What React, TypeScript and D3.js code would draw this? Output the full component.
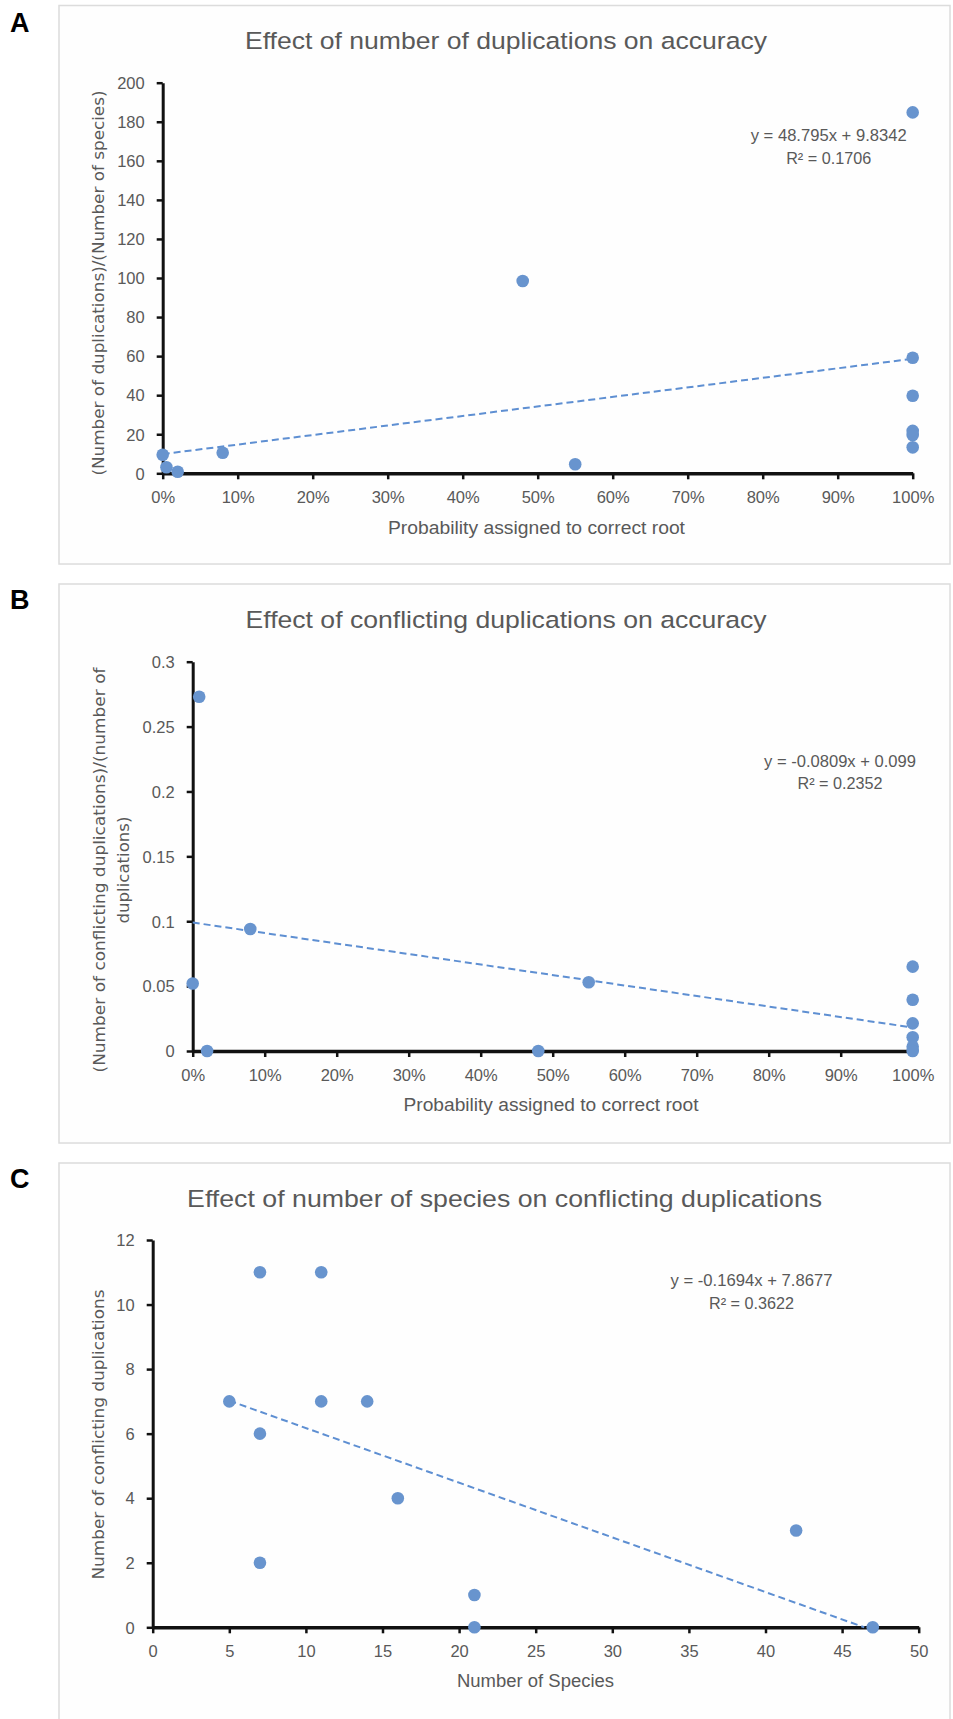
import { useRef, useEffect } from 'react';
import * as d3 from 'd3';

// Panel A: probability of correct root vs duplications per species
const probA = [0, 0.005, 0.02, 0.08, 0.48, 0.55, 1, 1, 1, 1, 1, 1];
const dupsPerSpecies = [9.5, 3.1, 0.8, 10.5, 98.5, 4.6, 184.8, 59.2, 39.7, 21.7, 19.6, 13.3];

// Panel B: probability of correct root vs conflicting/total duplications
const probB = [0.009, 0.08, 0, 0.02, 0.48, 0.55, 1, 1, 1, 1, 1, 1];
const conflictRatio = [0.273, 0.094, 0.052, 0, 0, 0.053, 0.065, 0.0395, 0.0213, 0.0106, 0.0033, 0];

// Panel C: number of species vs conflicting duplications
const speciesCount = [7, 11, 5, 11, 14, 7, 16, 7, 42, 21, 21, 47];
const conflictCount = [11, 11, 7, 7, 7, 6, 4, 2, 3, 1, 0, 0];

// ticks
const pctTicks = [0, 0.1, 0.2, 0.3, 0.4, 0.5, 0.6, 0.7, 0.8, 0.9, 1];
const pctLabels = ['0%', '10%', '20%', '30%', '40%', '50%', '60%', '70%', '80%', '90%', '100%'];
const yTicksA = [0, 20, 40, 60, 80, 100, 120, 140, 160, 180, 200];
const yTicksB = [0, 0.05, 0.1, 0.15, 0.2, 0.25, 0.3];
const yLabelsB = ['0', '0.05', '0.1', '0.15', '0.2', '0.25', '0.3'];
const yTicksC = [0, 2, 4, 6, 8, 10, 12];
const xTicksC = [0, 5, 10, 15, 20, 25, 30, 35, 40, 45, 50];

// trendlines (Excel linear fits)
const fitA = { slope: 48.795, intercept: 9.8342, eq: 'y = 48.795x + 9.8342', r2: 'R² = 0.1706' };
const fitB = { slope: -0.0809, intercept: 0.099, eq: 'y = -0.0809x + 0.099', r2: 'R² = 0.2352' };
const fitC = { slope: -0.1694, intercept: 7.8677, eq: 'y = -0.1694x + 7.8677', r2: 'R² = 0.3622' };

const FONT = "'Liberation Sans', Arial, sans-serif";
const VFONT = "'DejaVu Sans', Verdana, sans-serif";
const TEXT = '#595959';
const DOT = '#6894ce';
const LINE = '#5e8fd2';

function drawPanel(svg, p) {
  const g = svg.append('g');

  g.append('rect')
    .attr('x', p.box[0]).attr('y', p.box[1])
    .attr('width', p.box[2] - p.box[0]).attr('height', p.box[3] - p.box[1])
    .attr('fill', '#fefefe').attr('stroke', '#dcdcdc').attr('stroke-width', 1.5);

  g.append('text')
    .attr('x', 10).attr('y', p.letterY)
    .attr('font-family', FONT).attr('font-weight', 'bold').attr('font-size', 27)
    .attr('fill', '#000').text(p.letter);

  g.append('text')
    .attr('x', p.titleX).attr('y', p.titleY)
    .attr('text-anchor', 'middle')
    .attr('font-family', FONT).attr('font-size', 24.5).attr('fill', TEXT)
    .attr('textLength', p.titleW).attr('lengthAdjust', 'spacingAndGlyphs')
    .text(p.title);

  const x = d3.scaleLinear().domain(p.xDomain).range([p.left, p.right]);
  const y = d3.scaleLinear().domain(p.yDomain).range([p.bottom, p.top]);

  // y axis
  const yAxis = g.append('g')
    .attr('transform', `translate(${p.left},0)`)
    .call(d3.axisLeft(y).tickValues(p.yTicks).tickFormat((d, i) => p.yLabels[i])
      .tickSize(6).tickSizeOuter(0).tickPadding(12));
  yAxis.select('.domain').attr('stroke', '#111').attr('stroke-width', 3);
  yAxis.selectAll('.tick line').attr('stroke', '#111').attr('stroke-width', 2.5);
  yAxis.selectAll('.tick text')
    .attr('font-family', FONT).attr('font-size', 16.5).attr('fill', TEXT).attr('dy', '0.35em');

  // x axis
  const xAxis = g.append('g')
    .attr('transform', `translate(0,${p.bottom})`)
    .call(d3.axisBottom(x).tickValues(p.xTicks).tickFormat((d, i) => p.xLabels[i])
      .tickSize(6).tickSizeOuter(0).tickPadding(12));
  xAxis.select('.domain').attr('stroke', '#111').attr('stroke-width', 3.5);
  xAxis.selectAll('.tick line').attr('stroke', '#111').attr('stroke-width', 2.5);
  xAxis.selectAll('.tick text')
    .attr('font-family', FONT).attr('font-size', 16.5).attr('fill', TEXT);

  // axis titles
  g.append('text')
    .attr('x', p.xTitleX).attr('y', p.xTitleY)
    .attr('text-anchor', 'middle')
    .attr('font-family', FONT).attr('font-size', 17.5).attr('fill', TEXT)
    .attr('textLength', p.xTitleW).attr('lengthAdjust', 'spacingAndGlyphs')
    .text(p.xTitle);

  p.yTitle.forEach((line, i) => {
    const cx = p.yTitleX + i * 24;
    g.append('text')
      .attr('transform', `translate(${cx},${p.yTitleY}) rotate(-90)`)
      .attr('text-anchor', 'middle').attr('dy', '0.35em')
      .attr('font-family', VFONT).attr('font-size', 15).attr('fill', TEXT)
      .attr('textLength', p.yTitleW[i]).attr('lengthAdjust', 'spacingAndGlyphs')
      .text(line);
  });

  // trendline, clipped where it crosses the x axis
  const fit = p.fit;
  const x0 = d3.min(p.xs);
  let x1 = d3.max(p.xs);
  if (fit.slope < 0 && fit.slope * x1 + fit.intercept < p.yDomain[0]) {
    x1 = (p.yDomain[0] - fit.intercept) / fit.slope;
  }
  g.append('path')
    .attr('d', d3.line()([[x(x0), y(fit.slope * x0 + fit.intercept)], [x(x1), y(fit.slope * x1 + fit.intercept)]]))
    .attr('stroke', LINE).attr('stroke-width', 2).attr('stroke-dasharray', '7,4').attr('fill', 'none');

  // points
  g.selectAll('circle.pt')
    .data(p.xs.map((v, i) => [v, p.ys[i]]))
    .enter().append('circle')
    .attr('class', 'pt')
    .attr('cx', d => x(d[0])).attr('cy', d => y(d[1]))
    .attr('r', 6.3).attr('fill', DOT);

  // equation
  [fit.eq, fit.r2].forEach((t, i) => {
    g.append('text')
      .attr('x', p.eqX).attr('y', p.eqY + i * 22.5)
      .attr('text-anchor', 'middle')
      .attr('font-family', FONT).attr('font-size', 16.5).attr('fill', TEXT)
      .attr('textLength', p.eqW[i]).attr('lengthAdjust', 'spacingAndGlyphs')
      .text(t);
  });
}

export default function App() {
  const svgRef = useRef(null);

  useEffect(() => {
    const svg = d3.select(svgRef.current);
    svg.selectAll('*').remove();

    svg.append('rect').attr('width', 953).attr('height', 1719).attr('fill', '#fff');

    drawPanel(svg, {
      letter: 'A', letterY: 32, box: [59, 5.5, 950, 564],
      title: 'Effect of number of duplications on accuracy', titleX: 506, titleY: 49, titleW: 522,
      left: 162.7, right: 912.7, top: 82.7, bottom: 473.3,
      xDomain: [0, 1], yDomain: [0, 200],
      xTicks: pctTicks, xLabels: pctLabels,
      yTicks: yTicksA, yLabels: yTicksA.map(String),
      xTitle: 'Probability assigned to correct root', xTitleX: 536.5, xTitleY: 534, xTitleW: 297,
      yTitle: ['(Number of duplications)/(Number of species)'], yTitleX: 99, yTitleY: 283, yTitleW: [385],
      xs: probA, ys: dupsPerSpecies, fit: fitA,
      eqX: 828.7, eqY: 141, eqW: [156, 85],
    });

    drawPanel(svg, {
      letter: 'B', letterY: 609, box: [59, 584, 950, 1143],
      title: 'Effect of conflicting duplications on accuracy', titleX: 506, titleY: 628, titleW: 521,
      left: 192.7, right: 912.7, top: 661.7, bottom: 1051,
      xDomain: [0, 1], yDomain: [0, 0.3],
      xTicks: pctTicks, xLabels: pctLabels,
      yTicks: yTicksB, yLabels: yLabelsB,
      xTitle: 'Probability assigned to correct root', xTitleX: 551, xTitleY: 1111, xTitleW: 295,
      yTitle: ['(Number of conflicting duplications)/(number of', 'duplications)'],
      yTitleX: 100, yTitleY: 870, yTitleW: [405, 107],
      xs: probB, ys: conflictRatio, fit: fitB,
      eqX: 840, eqY: 766.5, eqW: [152, 85],
    });

    drawPanel(svg, {
      letter: 'C', letterY: 1188, box: [59, 1163, 950, 1730],
      title: 'Effect of number of species on conflicting duplications', titleX: 504.6, titleY: 1207, titleW: 635,
      left: 152.7, right: 918.7, top: 1240, bottom: 1627.3,
      xDomain: [0, 50], yDomain: [0, 12],
      xTicks: xTicksC, xLabels: xTicksC.map(String),
      yTicks: yTicksC, yLabels: yTicksC.map(String),
      xTitle: 'Number of Species', xTitleX: 535.5, xTitleY: 1687, xTitleW: 157,
      yTitle: ['Number of conflicting duplications'], yTitleX: 99, yTitleY: 1434.5, yTitleW: [290],
      xs: speciesCount, ys: conflictCount, fit: fitC,
      eqX: 751.5, eqY: 1286, eqW: [162, 85],
    });
  }, []);

  return (
    <svg ref={svgRef} width={953} height={1719}
      style={{ position: 'absolute', left: 0, top: 0, display: 'block' }} />
  );
}
